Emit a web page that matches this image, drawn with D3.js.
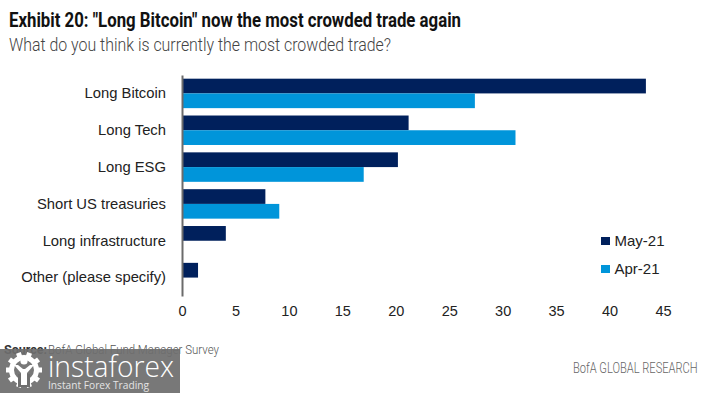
<!DOCTYPE html>
<html>
<head>
<meta charset="utf-8">
<script src="https://cdn.jsdelivr.net/npm/d3@7.9.0/dist/d3.min.js"></script>
<style>
    html, body { margin: 0; padding: 0; background: #fff; }
    svg { display: block; }
    text { font-family: "Liberation Sans", Arial, sans-serif; }
</style>
</head>
<body>
<div id="chart"></div>
<script>
const categories = ["Long Bitcoin", "Long Tech", "Long ESG", "Short US treasuries", "Long infrastructure", "Other (please specify)"];
const may21 = [43.4, 21.2, 20.2, 7.8, 4.1, 1.5];
const apr21 = [27.4, 31.2, 17.0, 9.1, null, null];
const xTicks = [0, 5, 10, 15, 20, 25, 30, 35, 40, 45];
const seriesNames = ["May-21", "Apr-21"];
const seriesColors = ["#00205c", "#0095da"];

const width = 718;
const height = 393;
const svg = d3.select("#chart").append("svg").attr("width", width).attr("height", height);

const xScale = d3.scaleLinear().domain([0, 45]).range([182, 663]);
const yScale = d3.scaleBand().domain(categories).range([75, 296]).paddingInner(0.2).paddingOuter(0.1);
const inner = d3.scaleBand().domain(seriesNames).range([0, yScale.bandwidth()]);

// bars
[may21, apr21].forEach((values, s) => {
    svg.append("g")
        .selectAll("rect")
        .data(values.map((v, i) => ({ v, cat: categories[i] })).filter((d) => d.v !== null))
        .join("rect")
        .attr("x", xScale(0))
        .attr("y", (d) => yScale(d.cat) + inner(seriesNames[s]))
        .attr("width", (d) => xScale(d.v) - xScale(0))
        .attr("height", inner.bandwidth())
        .attr("fill", seriesColors[s]);
});

// axes
const xAxis = svg.append("g")
    .attr("transform", "translate(0,296)")
    .call(d3.axisBottom(xScale).tickValues(xTicks).tickSize(0).tickPadding(10));
xAxis.select(".domain").remove();
xAxis.selectAll("text").attr("font-size", 14.5).attr("fill", "#222").style("font-family", '"Liberation Sans", Arial, sans-serif');

const yAxis = svg.append("g")
    .attr("transform", "translate(182,0)")
    .call(d3.axisLeft(yScale).tickSize(0).tickPadding(16));
yAxis.select(".domain").attr("stroke", "#6b6b6b").attr("stroke-width", 2);
yAxis.selectAll("text").attr("font-size", 14.8).attr("fill", "#222").style("font-family", '"Liberation Sans", Arial, sans-serif');

// title block
svg.append("text").attr("x", 9).attr("y", 27)
    .attr("font-size", 20).attr("font-weight", 700).attr("fill", "#111")
    .attr("textLength", 452).attr("lengthAdjust", "spacingAndGlyphs")
    .style("font-family", "Roboto")
    .text('Exhibit 20: "Long Bitcoin" now the most crowded trade again');
svg.append("text").attr("x", 9).attr("y", 51)
    .attr("font-size", 19).attr("fill", "#444")
    .attr("textLength", 382).attr("lengthAdjust", "spacingAndGlyphs")
    .style("font-family", "Roboto").style("font-weight", 300)
    .text("What do you think is currently the most crowded trade?");

// legend
const legend = svg.append("g");
seriesNames.forEach((name, i) => {
    const ly = 241 + i * 28;
    legend.append("rect").attr("x", 601).attr("y", ly - 4).attr("width", 9).attr("height", 8).attr("fill", seriesColors[i]);
    legend.append("text").attr("x", 614.5).attr("y", ly + 5).attr("font-size", 15).attr("fill", "#222").text(name);
});

// footer
svg.append("text").attr("x", 4).attr("y", 354)
    .attr("font-size", 12.5).attr("font-weight", 700).attr("fill", "#333")
    .style("font-family", "Roboto").text("Source:");
svg.append("text").attr("x", 48).attr("y", 354)
    .attr("font-size", 12.5).attr("fill", "#555")
    .attr("textLength", 171).attr("lengthAdjust", "spacingAndGlyphs")
    .style("font-family", "Roboto").style("font-weight", 300)
    .text("BofA Global Fund Manager Survey");
svg.append("text").attr("transform", "translate(573,373) scale(0.82,1)")
    .attr("font-size", 14).attr("fill", "#666")
    .attr("textLength", 152).attr("lengthAdjust", "spacingAndGlyphs")
    .style("font-family", "Roboto").style("font-weight", 300)
    .text("BofA GLOBAL RESEARCH");

// watermark
const mark = svg.append("g");
mark.append("rect").attr("x", 0).attr("y", 349).attr("width", 180).attr("height", 44)
    .attr("fill", "#6e6e6e").attr("fill-opacity", 0.93);

const gear = mark.append("g").attr("transform", "translate(24,370)");
d3.range(10).forEach((i) => {
    gear.append("rect").attr("x", -2.5).attr("y", -18).attr("width", 5).attr("height", 6)
        .attr("fill", "#fff").attr("transform", `rotate(${i * 36 + 18})`);
});
gear.append("path")
    .attr("d", d3.arc()({ innerRadius: 10, outerRadius: 15, startAngle: 0, endAngle: 2 * Math.PI }))
    .attr("fill", "#fff");
// two cuts in the ring beside the stem
gear.append("rect").attr("x", -6).attr("y", 4).attr("width", 12).attr("height", 13).attr("fill", "#6e6e6e");
// head, arms and stem
gear.append("circle").attr("cx", 0).attr("cy", -9).attr("r", 3.6).attr("fill", "#fff");
gear.append("path")
    .attr("d", "M-10,-5 L-6,-5 L-1,-1 L1,-1 L6,-5 L10,-5 L3,3 L3,15 L-3,15 L-3,3 Z")
    .attr("fill", "#fff");

mark.append("text").attr("x", 48).attr("y", 377)
    .attr("font-size", 29).attr("fill", "#fff")
    .attr("textLength", 126).attr("lengthAdjust", "spacingAndGlyphs")
    .style("font-family", '"Open Sans"').style("font-weight", 300)
    .text("instaforex");
mark.append("text").attr("x", 48).attr("y", 389)
    .attr("font-size", 11).attr("fill", "#e4e4e4")
    .attr("textLength", 101).attr("lengthAdjust", "spacingAndGlyphs")
    .style("font-family", '"Open Sans"')
    .text("Instant Forex Trading");
</script>
</body>
</html>
